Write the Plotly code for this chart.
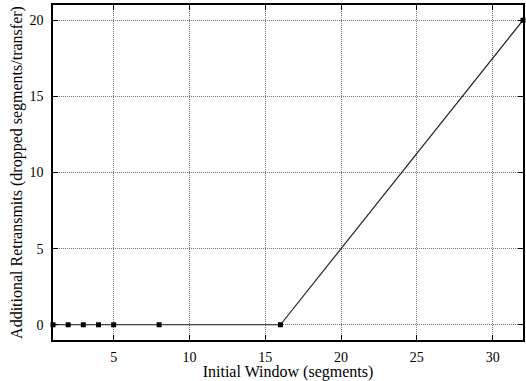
import plotly.graph_objects as go

initial_window = [1, 2, 3, 4, 5, 8, 16, 32]
additional_retransmits = [0, 0, 0, 0, 0, 0, 0, 20]
x_ticks = [5, 10, 15, 20, 25, 30]
y_ticks = [0, 5, 10, 15, 20]

fig = go.Figure()
fig.add_trace(go.Scatter(
    x=initial_window, y=additional_retransmits,
    mode="lines+markers",
    line=dict(color="#222222", width=1.2),
    marker=dict(symbol="square", size=5, color="black"),
    showlegend=False,
    cliponaxis=False,
))

serif = "Times New Roman, Liberation Serif, serif"
tick_font = dict(family=serif, size=14, color="black")
title_font = dict(family=serif, size=16, color="black")
axis_common = dict(
    showline=True, linecolor="black", linewidth=1.5, mirror="allticks",
    ticks="inside", ticklen=5, tickcolor="black", tickwidth=1,
    showgrid=True, gridcolor="#777777", griddash="1px,1px", gridwidth=1,
    zeroline=False, tickfont=tick_font,
)
fig.update_xaxes(range=[1, 32], tickvals=x_ticks, ticklabelstandoff=3,
                 title=dict(text="Initial Window (segments)", font=title_font, standoff=1),
                 **axis_common)
fig.update_yaxes(range=[-1, 21], tickvals=y_ticks, ticklabelstandoff=5,
                 title=dict(text="Additional Retransmits (dropped segments/transfer)", font=title_font, standoff=3),
                 **axis_common)
fig.update_layout(
    width=526, height=381,
    margin=dict(l=53, r=1, t=5, b=41),
    paper_bgcolor="white", plot_bgcolor="white",
    font=tick_font,
)
fig.write_html("out.html")
